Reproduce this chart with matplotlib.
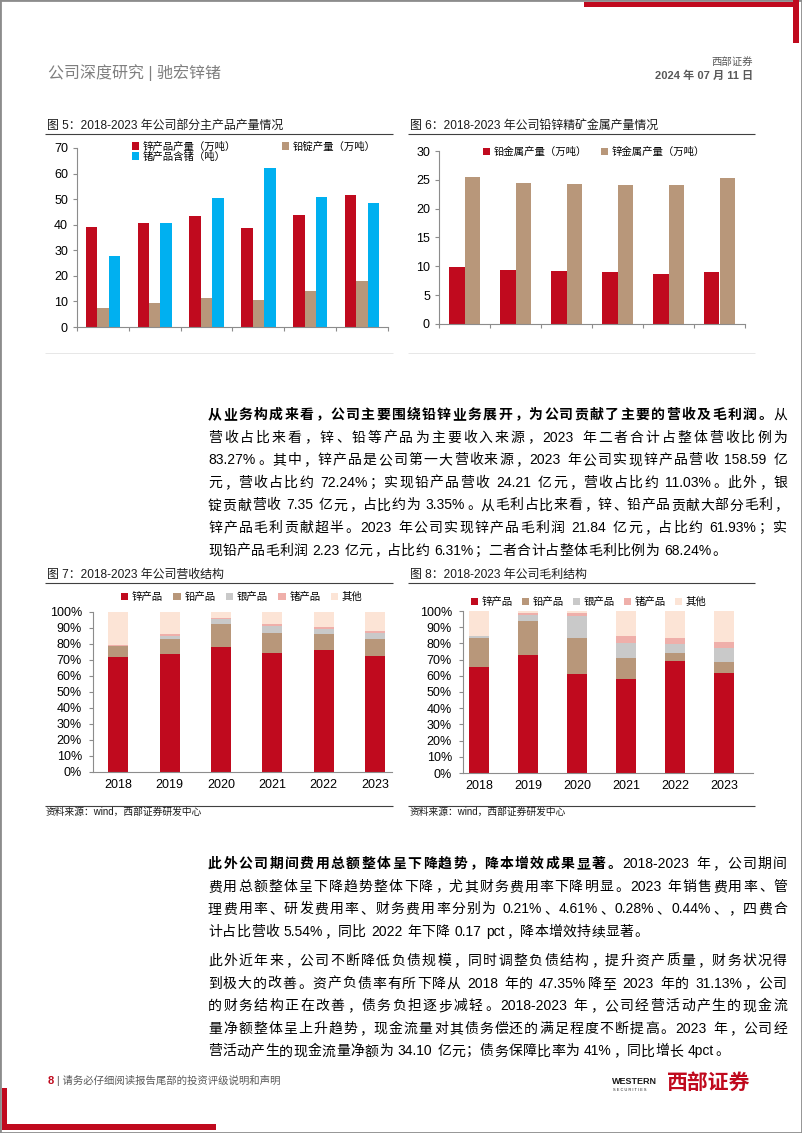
import re
import numpy as np
import matplotlib
matplotlib.use('Agg')
import matplotlib.pyplot as plt
from matplotlib.patches import Rectangle
from matplotlib.lines import Line2D
from matplotlib.ticker import FuncFormatter

# ---------------- data ----------------
years = ['2018', '2019', '2020', '2021', '2022', '2023']

# Fig 5
zinc_output = [39.0, 40.6, 43.3, 38.6, 43.7, 51.7]        # 锌产品产量（万吨）
lead_ingot_output = [7.5, 9.4, 11.3, 10.5, 14.1, 17.9]    # 铅锭产量（万吨）
ge_output = [27.8, 40.8, 50.4, 62.1, 51.0, 48.4]          # 锗产品含锗（吨）

# Fig 6
lead_metal = [9.85, 9.39, 9.21, 9.10, 8.69, 8.98]        # 铅金属产量（万吨）
zinc_metal = [25.5, 24.5, 24.24, 24.07, 24.1, 25.3]      # 锌金属产量（万吨）

# Fig 7 revenue structure (%)
rev_zinc = [71.9, 73.5, 78.1, 74.4, 76.5, 72.24]
rev_lead = [6.6, 9.6, 14.2, 12.5, 10.0, 11.03]
rev_silver = [0.4, 2.1, 3.3, 4.6, 2.9, 3.35]
rev_ge = [0.3, 0.8, 0.9, 1.0, 1.0, 1.5]
rev_other = [20.8, 14.0, 3.5, 7.5, 9.6, 11.88]

# Fig 8 gross profit structure (%)
gp_zinc = [65.6, 73.0, 61.1, 58.2, 68.9, 61.93]
gp_lead = [18.0, 20.9, 22.3, 12.7, 4.9, 6.31]
gp_silver = [0.8, 3.4, 13.3, 9.4, 5.7, 9.0]
gp_ge = [0.4, 1.5, 2.1, 4.1, 3.9, 3.8]
gp_other = [15.2, 1.2, 1.2, 15.6, 16.6, 18.96]

struct_labels = ['锌产品', '铅产品', '银产品', '锗产品', '其他']

# ---------------- style ----------------
FAM = ['Liberation Sans', 'Noto Sans CJK SC']
plt.rcParams['font.family'] = FAM
plt.rcParams['axes.unicode_minus'] = False

RED = '#C00A1E'
TAN = '#B8977A'
BLUE = '#00B0F0'
GREY = '#C9C9C9'
PINK = '#EFAFAA'
LIGHT = '#FCE4D6'
AXC = '#8C8C8C'

W, H = 802, 1133
fig = plt.figure(figsize=(W / 100, H / 100), dpi=100)
renderer = fig.canvas.get_renderer()


def X(x):
    return x / W


def Y(y):
    return 1 - y / H


def hline(x0, x1, y, color='#404040', lw=0.8):
    fig.add_artist(Line2D([X(x0), X(x1)], [Y(y), Y(y)], transform=fig.transFigure,
                          color=color, lw=lw, solid_capstyle='butt'))


def block(x0, y0, x1, y1, color):
    fig.add_artist(Rectangle((X(x0), Y(y1)), X(x1) - X(x0), Y(y0) - Y(y1),
                             transform=fig.transFigure, color=color, lw=0))


def ftext(x, y, s, **kw):
    return fig.text(X(x), Y(y), s, **kw)


# ---------------- page decorations ----------------
fig.add_artist(Rectangle((0, 0), 1, 1, transform=fig.transFigure, fill=False,
                         edgecolor='#8C8C8C', lw=2))
block(584, 2, 799, 7, RED)
block(793, 0, 799, 43, RED)
block(2, 1088, 7, 1130, RED)
block(2, 1124, 216, 1130, RED)

ftext(48, 73, '公司深度研究 | 驰宏锌锗', fontsize=11.5, color='#7F7F7F', va='center', ha='left')
ftext(753, 62, '西部证券', fontsize=7.5, color='#595959', va='center', ha='right')
ftext(753, 76, '2024 年 07 月 11 日', fontsize=8, color='#595959', va='center', ha='right',
      fontweight='bold')

ftext(48, 1081, '8', fontsize=8, color=RED, fontweight='bold', va='center', ha='left')
ftext(57, 1081, '| 请务必仔细阅读报告尾部的投资评级说明和声明', fontsize=7.5, color='#595959',
      va='center', ha='left')
ftext(612, 1082, 'WESTERN', fontsize=6.5, color='#1A1A1A', fontweight='bold', va='center', ha='left')
ftext(613, 1090, 'S E C U R I T I E S', fontsize=2.8, color='#1A1A1A', va='center', ha='left')
ftext(667, 1083, '西部证券', fontsize=15, color=RED, fontweight='bold', va='center', ha='left')


# ---------------- charts ----------------
def make_axes(l, t, r, b):
    return fig.add_axes([X(l), Y(b), X(r) - X(l), Y(t) - Y(b)])


def style(ax, labelsize=9):
    for s in ['top', 'right']:
        ax.spines[s].set_visible(False)
    for s in ['left', 'bottom']:
        ax.spines[s].set_color(AXC)
        ax.spines[s].set_linewidth(0.8)
    ax.tick_params(axis='both', colors=AXC, labelcolor='#000000', length=3, width=0.8,
                   labelsize=labelsize)
    ax.set_facecolor('none')


def title(x, y, s, x0, x1):
    ftext(x, y, s, fontsize=8.6, color='#1A1A1A', va='center', ha='left')
    hline(x0, x1, y + 8)


x = np.arange(len(years))

# Fig 5
title(47, 126, '图 5：2018-2023 年公司部分主产品产量情况', 45, 393)
ax5 = make_axes(77, 148, 388, 327)
style(ax5)
w5 = 0.22
h1 = ax5.bar(x - w5, zinc_output, w5, color=RED, label='锌产品产量（万吨）')
h2 = ax5.bar(x, lead_ingot_output, w5, color=TAN, label='铅锭产量（万吨）')
h3 = ax5.bar(x + w5, ge_output, w5, color=BLUE, label='锗产品含锗（吨）')
ax5.set_xlim(-0.5, 5.5)
ax5.set_ylim(0, 70)
ax5.set_yticks(range(0, 71, 10))
ax5.set_xticks(np.arange(-0.5, 6, 1))
ax5.set_xticklabels([])
ax5.legend([h1, h3, h2], [h1.get_label(), h3.get_label(), h2.get_label()], ncol=2,
           loc='center left', bbox_to_anchor=(X(132), Y(151.5)), bbox_transform=fig.transFigure,
           frameon=False, fontsize=7.5, handlelength=0.7, handleheight=0.7, handletextpad=0.35,
           columnspacing=4.4, labelspacing=0.0, borderpad=0, borderaxespad=0)

# Fig 6
title(410, 126, '图 6：2018-2023 年公司铅锌精矿金属产量情况', 408, 755)
ax6 = make_axes(439, 151, 745, 324)
style(ax6)
w6 = 0.30
g1 = ax6.bar(x - w6 / 2, lead_metal, w6, color=RED, label='铅金属产量（万吨）')
g2 = ax6.bar(x + w6 / 2, zinc_metal, w6, color=TAN, label='锌金属产量（万吨）')
ax6.set_xlim(-0.5, 5.5)
ax6.set_ylim(0, 30)
ax6.set_yticks(range(0, 31, 5))
ax6.set_xticks(np.arange(-0.5, 6, 1))
ax6.set_xticklabels([])
ax6.legend(ncol=2, loc='center left', bbox_to_anchor=(X(483), Y(152)),
           bbox_transform=fig.transFigure, frameon=False, fontsize=7.5, handlelength=0.7,
           handleheight=0.7, handletextpad=0.35, columnspacing=1.3, borderpad=0, borderaxespad=0)

hline(45, 393, 353, color='#E3E3E3', lw=0.6)
hline(408, 755, 353, color='#E3E3E3', lw=0.6)


def stacked(ax, series, width):
    bottom = np.zeros(len(years))
    cols = [RED, TAN, GREY, PINK, LIGHT]
    for vals, c, lab in zip(series, cols, struct_labels):
        ax.bar(x, vals, width, bottom=bottom, color=c, label=lab)
        bottom = bottom + np.array(vals)
    ax.set_ylim(0, 100)
    ax.set_yticks(range(0, 101, 10))
    ax.yaxis.set_major_formatter(FuncFormatter(lambda v, p: f'{int(v)}%'))
    ax.set_xticks(x)
    ax.set_xticklabels(years)
    ax.tick_params(axis='x', length=0, pad=5)
    ax.tick_params(axis='y', pad=5)


# Fig 7
title(47, 575, '图 7：2018-2023 年公司营收结构', 45, 393)
ax7 = make_axes(93, 612, 392, 772)
style(ax7, labelsize=9)
stacked(ax7, [rev_zinc, rev_lead, rev_silver, rev_ge, rev_other], 0.39)
ax7.set_xlim(-0.49, 5.33)
ax7.legend(ncol=5, loc='center left', bbox_to_anchor=(X(121), Y(597)),
           bbox_transform=fig.transFigure, frameon=False, fontsize=7.5, handlelength=0.7,
           handleheight=0.7, handletextpad=0.35, columnspacing=1.0, borderpad=0, borderaxespad=0)

# Fig 8
title(410, 575, '图 8：2018-2023 年公司毛利结构', 408, 755)
ax8 = make_axes(463, 611, 753, 773)
style(ax8, labelsize=9)
stacked(ax8, [gp_zinc, gp_lead, gp_silver, gp_ge, gp_other], 0.41)
ax8.set_xlim(-0.33, 5.59)
ax8.legend(ncol=5, loc='center left', bbox_to_anchor=(X(471), Y(602)),
           bbox_transform=fig.transFigure, frameon=False, fontsize=7.5, handlelength=0.7,
           handleheight=0.7, handletextpad=0.35, columnspacing=0.85, borderpad=0, borderaxespad=0)

hline(45, 393, 806)
hline(408, 755, 806)
ftext(46, 812, '资料来源：wind，西部证券研发中心', fontsize=7, color='#1A1A1A', va='center')
ftext(410, 812, '资料来源：wind，西部证券研发中心', fontsize=7, color='#1A1A1A', va='center')

# ---------------- body text ----------------
BODY_FS = 10.0
EM = BODY_FS * 100 / 72.0
LEFT_P = set('，。、；：）')


def tokens_of(s, weight):
    out, buf = [], ''
    for ch in s:
        if ord(ch) < 128 and ch != ' ':
            buf += ch
        else:
            if buf:
                out.append((buf, weight, 'latin'))
                buf = ''
            out.append((ch, weight, 'space' if ch == ' ' else 'cjk'))
    if buf:
        out.append((buf, weight, 'latin'))
    return out


def draw_line(segments, yc, x0=208, x1=787, justify=True):
    toks = []
    for s, wt in segments:
        toks += tokens_of(s, wt)
    items = []
    for s, wt, kind in toks:
        if kind == 'cjk':
            items.append((s, wt, kind, EM, None))
        elif kind == 'space':
            items.append((s, wt, kind, 0.278 * EM, None))
        else:
            t = fig.text(0, 0, s, fontsize=BODY_FS, fontweight=wt, color='#000000', va='baseline',
                         ha='left')
            wdt = t.get_window_extent(renderer).width
            items.append((s, wt, kind, wdt + 0.6, t))
    total = sum(it[3] for it in items)
    gap = (x1 - x0 - total) / (len(items) - 1) if justify else 0.35
    base = yc + 5
    cur = x0
    for s, wt, kind, wdt, t in items:
        if kind == 'latin':
            t.set_position((X(cur + 0.3), Y(base)))
        elif kind == 'cjk':
            if s in LEFT_P:
                ftext(cur + 0.06 * EM, base, s, fontsize=BODY_FS, fontweight=wt, color='#000000',
                      va='baseline', ha='left')
            elif s == '（':
                ftext(cur + 0.94 * EM, base, s, fontsize=BODY_FS, fontweight=wt, color='#000000',
                      va='baseline', ha='right')
            else:
                ftext(cur + EM / 2, base, s, fontsize=BODY_FS, fontweight=wt, color='#000000',
                      va='baseline', ha='center')
        cur += wdt + gap


para1 = [
    [('从业务构成来看，公司主要围绕铅锌业务展开，为公司贡献了主要的营收及毛利润。', 'bold'), ('从', 'normal')],
    [('营收占比来看，锌、铅等产品为主要收入来源，2023 年二者合计占整体营收比例为', 'normal')],
    [('83.27%。其中，锌产品是公司第一大营收来源，2023 年公司实现锌产品营收 158.59 亿', 'normal')],
    [('元，营收占比约 72.24%；实现铅产品营收 24.21 亿元，营收占比约 11.03%。此外，银', 'normal')],
    [('锭贡献营收 7.35 亿元，占比约为 3.35%。从毛利占比来看，锌、铅产品贡献大部分毛利，', 'normal')],
    [('锌产品毛利贡献超半。2023 年公司实现锌产品毛利润 21.84 亿元，占比约 61.93%；实', 'normal')],
    [('现铅产品毛利润 2.23 亿元，占比约 6.31%；二者合计占整体毛利比例为 68.24%。', 'normal')],
]
para2 = [
    [('此外公司期间费用总额整体呈下降趋势，降本增效成果显著。', 'bold'), ('2018-2023 年，公司期间', 'normal')],
    [('费用总额整体呈下降趋势整体下降，尤其财务费用率下降明显。2023 年销售费用率、管', 'normal')],
    [('理费用率、研发费用率、财务费用率分别为 0.21%、4.61%、0.28%、0.44%、，四费合', 'normal')],
    [('计占比营收 5.54%，同比 2022 年下降 0.17 pct，降本增效持续显著。', 'normal')],
]
para3 = [
    [('此外近年来，公司不断降低负债规模，同时调整负债结构，提升资产质量，财务状况得', 'normal')],
    [('到极大的改善。资产负债率有所下降从 2018 年的 47.35%降至 2023 年的 31.13%，公司', 'normal')],
    [('的财务结构正在改善，债务负担逐步减轻。2018-2023 年，公司经营活动产生的现金流', 'normal')],
    [('量净额整体呈上升趋势，现金流量对其债务偿还的满足程度不断提高。2023 年，公司经', 'normal')],
    [('营活动产生的现金流量净额为 34.10 亿元；债务保障比率为 41%，同比增长 4pct。', 'normal')],
]

LS = 22.6
for i, ln in enumerate(para1):
    draw_line(ln, 414 + i * LS, justify=(i < len(para1) - 1))
for i, ln in enumerate(para2):
    draw_line(ln, 863 + i * LS, justify=(i < len(para2) - 1))
for i, ln in enumerate(para3):
    draw_line(ln, 960 + i * LS, justify=(i < len(para3) - 1))

fig.savefig('out.png', dpi=100)
